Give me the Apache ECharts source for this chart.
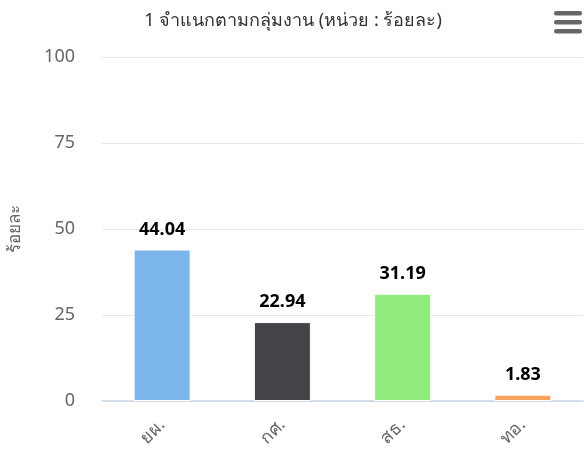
<!DOCTYPE html>
<html>
<head>
<meta charset="utf-8">
<script src="https://cdn.jsdelivr.net/npm/echarts@6/dist/echarts.min.js"></script>
<style>
  html, body { margin: 0; padding: 0; background: #fff; }
  #chart { width: 584px; height: 454px; }
</style>
</head>
<body>
<div id="chart"></div>
<script>
const categories = ["ยผ.", "กศ.", "สธ.", "ทอ."];
const values = [44.04, 22.94, 31.19, 1.83];
const barColors = ["#7cb5ec", "#434348", "#90ed7d", "#f7a35c"];
const yTicks = [0, 25, 50, 75, 100];

const chart = echarts.init(document.getElementById("chart"));
const font = "'Noto Sans', 'DejaVu Sans', sans-serif";

chart.setOption({
  animation: false,
  textStyle: { fontFamily: font },
  title: {
    text: "1 จำแนกตามกลุ่มงาน (หน่วย : ร้อยละ)",
    left: 288,
    textAlign: "center",
    top: 7,
    textStyle: { fontSize: 18, fontWeight: "normal", color: "#333333", fontFamily: font },
  },
  // menu button
  graphic: [0, 1, 2].map((i) => ({
    type: "rect",
    shape: { x: 554, y: 11 + i * 9, width: 28, height: 4.5, r: 2.25 },
    style: { fill: "#666666" },
  })),
  grid: { left: 102, right: 1, top: 57, bottom: 53, containLabel: false, outerBoundsMode: "none" },
  xAxis: {
    type: "category",
    data: categories,
    axisLine: { lineStyle: { color: "#ccd6eb", width: 1.5 } },
    axisTick: { show: false },
    axisLabel: {
      rotate: 45,
      color: "#666666",
      fontSize: 18,
      margin: 21,
      fontFamily: font,
    },
  },
  yAxis: {
    type: "value",
    min: yTicks[0],
    max: yTicks[yTicks.length - 1],
    interval: 25,
    name: "ร้อยละ",
    nameLocation: "middle",
    nameGap: 78,
    nameRotate: 90,
    nameTextStyle: { color: "#666666", fontSize: 17, fontFamily: font },
    axisLine: { show: false },
    axisTick: { show: false },
    splitLine: { lineStyle: { color: "#e6e6e6" } },
    axisLabel: { color: "#666666", fontSize: 18, margin: 27, fontFamily: font },
  },
  series: [
    {
      type: "bar",
      data: values.map((v, i) => ({ value: v, itemStyle: { color: barColors[i] } })),
      barWidth: 57,
      itemStyle: { borderColor: "#ffffff", borderWidth: 1 },
      label: {
        show: true,
        position: "top",
        distance: 11,
        color: "#000000",
        fontWeight: "bold",
        fontSize: 18,
        fontFamily: font,
        textBorderColor: "#ffffff",
        textBorderWidth: 2,
        formatter: (p) => p.value.toFixed(2),
      },
    },
  ],
});
</script>
</body>
</html>
